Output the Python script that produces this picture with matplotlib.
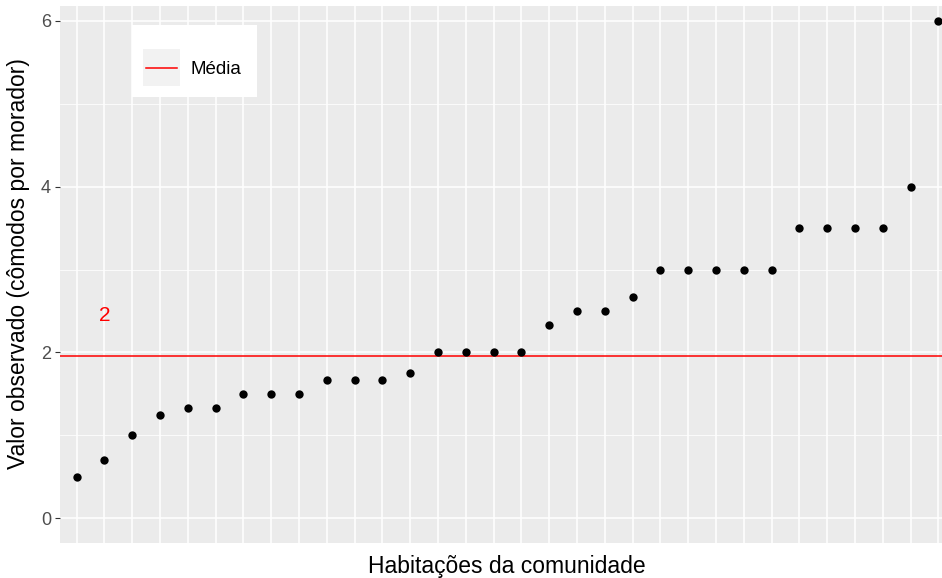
import matplotlib
matplotlib.use("Agg")
import matplotlib.pyplot as plt
import numpy as np

plt.rcParams['font.family'] = ['Liberation Sans', 'DejaVu Sans']

# Data (sorted observed values, rooms per resident)
valores = [0.5, 0.7, 1.0, 1.25, 1.33, 1.33, 1.5, 1.5, 1.5, 1.67, 1.67, 1.67,
           1.75, 2.0, 2.0, 2.0, 2.0, 2.33, 2.5, 2.5, 2.67, 3.0, 3.0, 3.0,
           3.0, 3.0, 3.5, 3.5, 3.5, 3.5, 4.0, 6.0]
media = 1.96
rotulo_media = "2"
rotulo_y = 2.45
yticks = [0, 2, 4, 6]
yminor = [1, 3, 5]

x = np.arange(1, len(valores) + 1)

W, H = 942, 578
fig = plt.figure(figsize=(W / 100, H / 100), dpi=100)
left, right, top, bottom = 60, 955, 6, 543
ax = fig.add_axes([left / W, (H - bottom) / H, (right - left) / W, (bottom - top) / H])
ax.set_facecolor('#EBEBEB')
for s in ax.spines.values():
    s.set_visible(False)

ax.set_xlim(1 - 0.6, len(valores) + 0.6)
ax.set_ylim(-0.3, 6.18)

# grid
for xv in x:
    ax.axvline(xv, color='white', lw=1.1, zorder=0.5)
for yv in yticks:
    ax.axhline(yv, color='white', lw=1.1, zorder=0.5)
for yv in yminor:
    ax.axhline(yv, color='white', lw=0.55, zorder=0.5)

ax.axhline(media, color='#FF0000', lw=1.1, zorder=2, label='Média')
ax.scatter(x, valores, s=36, color='black', zorder=3, linewidths=0)
ax.text(2, rotulo_y, rotulo_media, color='#FF0000', fontsize=15, ha='center', va='center')

ax.set_xticks([])
ax.set_yticks(yticks)
ax.set_yticklabels([str(v) for v in yticks], fontsize=13, color='#4D4D4D')
ax.tick_params(axis='y', length=3.5, width=0.8, color='#333333', pad=3)

fig.text(19 / W, 1 - 264 / H, 'Valor observado (cômodos por morador)', rotation=90,
         ha='center', va='center', fontsize=16.5, color='black')
fig.text(507 / W, 1 - 566 / H, 'Habitações da comunidade', ha='center', va='center',
         fontsize=16.5, color='black')

# legend
lx0, ly0, lx1, ly1 = 132, 25, 257, 97
fig.patches.append(plt.Rectangle((lx0 / W, 1 - ly1 / H), (lx1 - lx0) / W, (ly1 - ly0) / H,
                                 transform=fig.transFigure, facecolor='white', edgecolor='none', zorder=5))
kx0, ky0, kx1, ky1 = 143, 49, 180, 86
fig.patches.append(plt.Rectangle((kx0 / W, 1 - ky1 / H), (kx1 - kx0) / W, (ky1 - ky0) / H,
                                 transform=fig.transFigure, facecolor='#F2F2F2', edgecolor='none', zorder=6))
fig.lines.append(plt.Line2D([(kx0 + 3) / W, (kx1 - 3) / W], [1 - 68 / H, 1 - 68 / H],
                            transform=fig.transFigure, color='#FF0000', lw=1.1, zorder=7))
fig.text(191 / W, 1 - 70 / H, 'Média', fontsize=13.5, color='black', ha='left', va='center', zorder=8)

fig.savefig('out.png', dpi=100)
